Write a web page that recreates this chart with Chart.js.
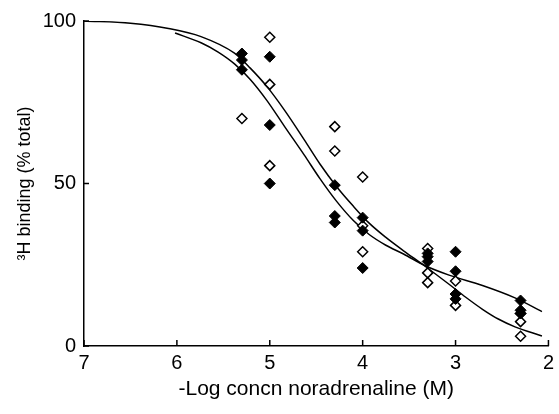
<!DOCTYPE html>
<html>
<head>
<meta charset="utf-8">
<script src="https://cdn.jsdelivr.net/npm/chart.js@4"></script>
<style>
  body { margin: 0; background: #fff; }
</style>
</head>
<body>
<canvas id="bindingChart" width="559" height="414"></canvas>
<script>
// filled diamonds
var filledX = [5.3, 5.3, 5.3, 5.0, 5.0, 5.0, 4.3, 4.3, 4.3, 4.0, 4.0, 4.0, 3.3, 3.3, 3.3, 3.0, 3.0, 3.0, 3.0, 2.3, 2.3, 2.3];
var filledY = [90, 88, 85, 89, 68, 50, 49.5, 40, 38, 39.5, 35.5, 24, 28.5, 27.5, 26, 29, 23, 16, 14.5, 14, 11, 10];

// open diamonds
var openX = [5.3, 5.0, 5.0, 5.0, 4.3, 4.3, 4.0, 4.0, 4.0, 3.3, 3.3, 3.3, 3.0, 3.0, 2.3, 2.3, 2.3];
var openY = [70, 95, 80.5, 55.5, 67.5, 60, 52, 37, 29, 30, 22.5, 19.5, 20, 12.5, 10, 7.5, 3];

// fitted curves
var curveOpenX = [7.0, 6.5, 6.09, 5.74, 5.38, 5.21, 5.03, 4.84, 4.63, 4.46, 4.28, 4.10, 3.93, 3.75, 3.56, 3.35, 3.07, 2.89, 2.71, 2.54, 2.36, 2.07];
var curveOpenY = [100, 99.3, 97.7, 95.2, 90.1, 85.5, 79.8, 72.5, 63.5, 56, 49, 43, 37.8, 33.4, 29.3, 25, 19, 15, 11.3, 8.3, 5.9, 3.1];
var curveFilledX = [6.02, 5.74, 5.56, 5.38, 5.21, 5.03, 4.84, 4.63, 4.46, 4.28, 4.10, 3.93, 3.75, 3.56, 3.32, 3.07, 2.71, 2.36, 2.07];
var curveFilledY = [96.3, 93.3, 90.5, 86.8, 82, 75.5, 67.5, 58.8, 51.5, 44.5, 38.6, 34.3, 31, 28.3, 24.6, 21.8, 18.6, 14.8, 10.6];

var xTickValues = [7, 6, 5, 4, 3, 2];
var yTickValues = [0, 50, 100];

function pairs(xs, ys) {
    return xs.map(function (x, i) { return { x: x, y: ys[i] }; });
}

var fontFamily = '"Liberation Sans", Arial, Helvetica, sans-serif';

// short tick marks pointing into the plot
var innerTicks = {
    id: 'innerTicks',
    afterDatasetsDraw: function (chart) {
        var ctx = chart.ctx;
        var area = chart.chartArea;
        var x = chart.scales.x;
        var y = chart.scales.y;
        ctx.save();
        ctx.strokeStyle = '#000';
        ctx.lineWidth = 1.5;
        ctx.beginPath();
        xTickValues.forEach(function (v) {
            var px = x.getPixelForValue(v);
            ctx.moveTo(px, area.bottom);
            ctx.lineTo(px, area.bottom - 6);
        });
        yTickValues.forEach(function (v) {
            var py = y.getPixelForValue(v);
            ctx.moveTo(area.left, py);
            ctx.lineTo(area.left + 5, py);
        });
        ctx.stroke();
        ctx.restore();
    }
};

var ctx = document.getElementById('bindingChart').getContext('2d');
var bindingChart = new Chart(ctx, {
    type: 'scatter',
    data: {
        datasets: [
            {
                label: 'filled',
                data: pairs(filledX, filledY),
                pointStyle: 'rectRot',
                pointRadius: 5.5,
                backgroundColor: '#000',
                borderColor: '#000',
                borderWidth: 1,
                order: 1
            },
            {
                label: 'open',
                data: pairs(openX, openY),
                pointStyle: 'rectRot',
                pointRadius: 5,
                backgroundColor: '#fff',
                borderColor: '#000',
                borderWidth: 1.5,
                order: 1
            },
            {
                label: 'fit open',
                data: pairs(curveOpenX, curveOpenY),
                showLine: true,
                pointRadius: 0,
                borderColor: '#000',
                borderWidth: 1.5,
                cubicInterpolationMode: 'monotone',
                order: 2
            },
            {
                label: 'fit filled',
                data: pairs(curveFilledX, curveFilledY),
                showLine: true,
                pointRadius: 0,
                borderColor: '#000',
                borderWidth: 1.5,
                cubicInterpolationMode: 'monotone',
                order: 2
            }
        ]
    },
    options: {
        responsive: false,
        devicePixelRatio: 1,
        animation: false,
        layout: {
            padding: { top: 21, right: 5, bottom: 0, left: 0 }
        },
        plugins: {
            legend: { display: false },
            tooltip: { enabled: false }
        },
        scales: {
            x: {
                type: 'linear',
                reverse: true,
                min: 2,
                max: 7,
                afterFit: function (s) { s.height = 68; },
                afterBuildTicks: function (s) {
                    s.ticks = xTickValues.map(function (v) { return { value: v }; });
                },
                grid: { drawOnChartArea: false, drawTicks: false },
                border: { color: '#000', width: 1.5 },
                ticks: {
                    autoSkip: false,
                    maxRotation: 0,
                    padding: 5,
                    color: '#000',
                    font: { family: fontFamily, size: 20 }
                },
                title: {
                    display: true,
                    text: '-Log concn noradrenaline (M)',
                    color: '#000',
                    padding: { top: 0, bottom: 12 },
                    font: { family: fontFamily, size: 21 }
                }
            },
            y: {
                min: 0,
                max: 100,
                afterFit: function (s) { s.width = 84; },
                afterBuildTicks: function (s) {
                    s.ticks = yTickValues.map(function (v) { return { value: v }; });
                },
                grid: { drawOnChartArea: false, drawTicks: false },
                border: { color: '#000', width: 1.5 },
                ticks: {
                    padding: 8,
                    color: '#000',
                    font: { family: fontFamily, size: 20 }
                },
                title: {
                    display: true,
                    text: '³H binding (% total)',
                    color: '#000',
                    padding: { top: 14, bottom: 0 },
                    font: { family: fontFamily, size: 18 }
                }
            }
        }
    },
    plugins: [innerTicks]
});
</script>
</body>
</html>
